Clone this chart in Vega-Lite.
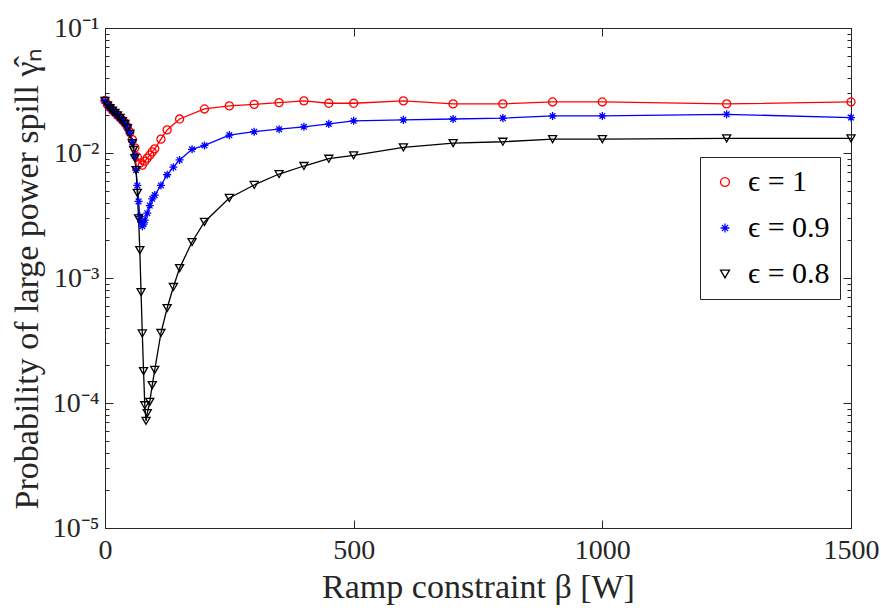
{
  "$schema": "https://vega.github.io/schema/vega-lite/v6.json",
  "width": 746,
  "height": 500,
  "autosize": {"type": "none"},
  "padding": {"left": 105, "top": 28, "right": 30, "bottom": 80},
  "background": "white",
  "config": {
    "view": {"stroke": "#262626", "strokeWidth": 1},
    "font": "Liberation Serif",
    "axis": {
      "labelFont": "Liberation Serif",
      "titleFont": "Liberation Serif",
      "labelFontSize": 28,
      "titleFontSize": 34,
      "titleFontWeight": "normal",
      "labelColor": "#262626",
      "titleColor": "#262626",
      "domainColor": "#262626",
      "tickColor": "#262626",
      "grid": false
    },
    "legend": {
      "labelFont": "Liberation Serif",
      "labelFontSize": 30,
      "labelColor": "#000000"
    }
  },
  "data": {
    "values": [
      {"beta": 0, "p": 0.0263, "series": "ϵ = 1"},
      {"beta": 5, "p": 0.0243, "series": "ϵ = 1"},
      {"beta": 10, "p": 0.0231, "series": "ϵ = 1"},
      {"beta": 15, "p": 0.0220, "series": "ϵ = 1"},
      {"beta": 20, "p": 0.0210, "series": "ϵ = 1"},
      {"beta": 25, "p": 0.0201, "series": "ϵ = 1"},
      {"beta": 30, "p": 0.0192, "series": "ϵ = 1"},
      {"beta": 35, "p": 0.0183, "series": "ϵ = 1"},
      {"beta": 40, "p": 0.0174, "series": "ϵ = 1"},
      {"beta": 45, "p": 0.0162, "series": "ϵ = 1"},
      {"beta": 50, "p": 0.0147, "series": "ϵ = 1"},
      {"beta": 55, "p": 0.0128, "series": "ϵ = 1"},
      {"beta": 60, "p": 0.0110, "series": "ϵ = 1"},
      {"beta": 65, "p": 0.0093, "series": "ϵ = 1"},
      {"beta": 70, "p": 0.0083, "series": "ϵ = 1"},
      {"beta": 75, "p": 0.0080, "series": "ϵ = 1"},
      {"beta": 80, "p": 0.0086, "series": "ϵ = 1"},
      {"beta": 85, "p": 0.0091, "series": "ϵ = 1"},
      {"beta": 90, "p": 0.0096, "series": "ϵ = 1"},
      {"beta": 95, "p": 0.0102, "series": "ϵ = 1"},
      {"beta": 100, "p": 0.0108, "series": "ϵ = 1"},
      {"beta": 112.5, "p": 0.0129, "series": "ϵ = 1"},
      {"beta": 125, "p": 0.0153, "series": "ϵ = 1"},
      {"beta": 150, "p": 0.0187, "series": "ϵ = 1"},
      {"beta": 200, "p": 0.0225, "series": "ϵ = 1"},
      {"beta": 250, "p": 0.0238, "series": "ϵ = 1"},
      {"beta": 300, "p": 0.0245, "series": "ϵ = 1"},
      {"beta": 350, "p": 0.0253, "series": "ϵ = 1"},
      {"beta": 400, "p": 0.0261, "series": "ϵ = 1"},
      {"beta": 450, "p": 0.0250, "series": "ϵ = 1"},
      {"beta": 500, "p": 0.0250, "series": "ϵ = 1"},
      {"beta": 600, "p": 0.0261, "series": "ϵ = 1"},
      {"beta": 700, "p": 0.0247, "series": "ϵ = 1"},
      {"beta": 800, "p": 0.0247, "series": "ϵ = 1"},
      {"beta": 900, "p": 0.0256, "series": "ϵ = 1"},
      {"beta": 1000, "p": 0.0256, "series": "ϵ = 1"},
      {"beta": 1250, "p": 0.0247, "series": "ϵ = 1"},
      {"beta": 1500, "p": 0.0256, "series": "ϵ = 1"},

      {"beta": 0, "p": 0.0262, "series": "ϵ = 0.9"},
      {"beta": 5, "p": 0.0241, "series": "ϵ = 0.9"},
      {"beta": 10, "p": 0.0229, "series": "ϵ = 0.9"},
      {"beta": 15, "p": 0.0219, "series": "ϵ = 0.9"},
      {"beta": 20, "p": 0.0209, "series": "ϵ = 0.9"},
      {"beta": 25, "p": 0.0199, "series": "ϵ = 0.9"},
      {"beta": 30, "p": 0.0190, "series": "ϵ = 0.9"},
      {"beta": 35, "p": 0.0181, "series": "ϵ = 0.9"},
      {"beta": 40, "p": 0.0172, "series": "ϵ = 0.9"},
      {"beta": 45, "p": 0.0159, "series": "ϵ = 0.9"},
      {"beta": 50, "p": 0.0144, "series": "ϵ = 0.9"},
      {"beta": 55, "p": 0.0122, "series": "ϵ = 0.9"},
      {"beta": 60, "p": 0.0095, "series": "ϵ = 0.9"},
      {"beta": 62.5, "p": 0.0073, "series": "ϵ = 0.9"},
      {"beta": 65, "p": 0.0055, "series": "ϵ = 0.9"},
      {"beta": 67.5, "p": 0.0041, "series": "ϵ = 0.9"},
      {"beta": 70, "p": 0.0031, "series": "ϵ = 0.9"},
      {"beta": 72.5, "p": 0.0028, "series": "ϵ = 0.9"},
      {"beta": 75, "p": 0.0026, "series": "ϵ = 0.9"},
      {"beta": 77.5, "p": 0.0027, "series": "ϵ = 0.9"},
      {"beta": 80, "p": 0.0029, "series": "ϵ = 0.9"},
      {"beta": 85, "p": 0.0033, "series": "ϵ = 0.9"},
      {"beta": 90, "p": 0.0038, "series": "ϵ = 0.9"},
      {"beta": 95, "p": 0.0043, "series": "ϵ = 0.9"},
      {"beta": 100, "p": 0.0046, "series": "ϵ = 0.9"},
      {"beta": 112.5, "p": 0.0055, "series": "ϵ = 0.9"},
      {"beta": 125, "p": 0.0067, "series": "ϵ = 0.9"},
      {"beta": 137.5, "p": 0.0077, "series": "ϵ = 0.9"},
      {"beta": 150, "p": 0.0088, "series": "ϵ = 0.9"},
      {"beta": 175, "p": 0.0107, "series": "ϵ = 0.9"},
      {"beta": 200, "p": 0.0115, "series": "ϵ = 0.9"},
      {"beta": 250, "p": 0.0139, "series": "ϵ = 0.9"},
      {"beta": 300, "p": 0.0148, "series": "ϵ = 0.9"},
      {"beta": 350, "p": 0.0155, "series": "ϵ = 0.9"},
      {"beta": 400, "p": 0.0162, "series": "ϵ = 0.9"},
      {"beta": 450, "p": 0.0171, "series": "ϵ = 0.9"},
      {"beta": 500, "p": 0.0181, "series": "ϵ = 0.9"},
      {"beta": 600, "p": 0.0184, "series": "ϵ = 0.9"},
      {"beta": 700, "p": 0.0187, "series": "ϵ = 0.9"},
      {"beta": 800, "p": 0.0190, "series": "ϵ = 0.9"},
      {"beta": 900, "p": 0.0198, "series": "ϵ = 0.9"},
      {"beta": 1000, "p": 0.0198, "series": "ϵ = 0.9"},
      {"beta": 1250, "p": 0.0204, "series": "ϵ = 0.9"},
      {"beta": 1500, "p": 0.0192, "series": "ϵ = 0.9"},

      {"beta": 0, "p": 0.0261, "series": "ϵ = 0.8"},
      {"beta": 5, "p": 0.0240, "series": "ϵ = 0.8"},
      {"beta": 10, "p": 0.0228, "series": "ϵ = 0.8"},
      {"beta": 15, "p": 0.0218, "series": "ϵ = 0.8"},
      {"beta": 20, "p": 0.0209, "series": "ϵ = 0.8"},
      {"beta": 25, "p": 0.0200, "series": "ϵ = 0.8"},
      {"beta": 30, "p": 0.0191, "series": "ϵ = 0.8"},
      {"beta": 35, "p": 0.0180, "series": "ϵ = 0.8"},
      {"beta": 40, "p": 0.0171, "series": "ϵ = 0.8"},
      {"beta": 45, "p": 0.0158, "series": "ϵ = 0.8"},
      {"beta": 50, "p": 0.0142, "series": "ϵ = 0.8"},
      {"beta": 55, "p": 0.0120, "series": "ϵ = 0.8"},
      {"beta": 57.5, "p": 0.0106, "series": "ϵ = 0.8"},
      {"beta": 60, "p": 0.0091, "series": "ϵ = 0.8"},
      {"beta": 62.5, "p": 0.0073, "series": "ϵ = 0.8"},
      {"beta": 65, "p": 0.0048, "series": "ϵ = 0.8"},
      {"beta": 67.5, "p": 0.0030, "series": "ϵ = 0.8"},
      {"beta": 70, "p": 0.00167, "series": "ϵ = 0.8"},
      {"beta": 72.5, "p": 0.00077, "series": "ϵ = 0.8"},
      {"beta": 75, "p": 0.00036, "series": "ϵ = 0.8"},
      {"beta": 77.5, "p": 0.00018, "series": "ϵ = 0.8"},
      {"beta": 80, "p": 0.000096, "series": "ϵ = 0.8"},
      {"beta": 82.5, "p": 0.000072, "series": "ϵ = 0.8"},
      {"beta": 85, "p": 0.000083, "series": "ϵ = 0.8"},
      {"beta": 90, "p": 0.000102, "series": "ϵ = 0.8"},
      {"beta": 95, "p": 0.000139, "series": "ϵ = 0.8"},
      {"beta": 100, "p": 0.000184, "series": "ϵ = 0.8"},
      {"beta": 112.5, "p": 0.000363, "series": "ϵ = 0.8"},
      {"beta": 125, "p": 0.000575, "series": "ϵ = 0.8"},
      {"beta": 137.5, "p": 0.000847, "series": "ϵ = 0.8"},
      {"beta": 150, "p": 0.00120, "series": "ϵ = 0.8"},
      {"beta": 175, "p": 0.00194, "series": "ϵ = 0.8"},
      {"beta": 200, "p": 0.00281, "series": "ϵ = 0.8"},
      {"beta": 250, "p": 0.00437, "series": "ϵ = 0.8"},
      {"beta": 300, "p": 0.00555, "series": "ϵ = 0.8"},
      {"beta": 350, "p": 0.00679, "series": "ϵ = 0.8"},
      {"beta": 400, "p": 0.00787, "series": "ϵ = 0.8"},
      {"beta": 450, "p": 0.00900, "series": "ϵ = 0.8"},
      {"beta": 500, "p": 0.00958, "series": "ϵ = 0.8"},
      {"beta": 600, "p": 0.0111, "series": "ϵ = 0.8"},
      {"beta": 700, "p": 0.0120, "series": "ϵ = 0.8"},
      {"beta": 800, "p": 0.0123, "series": "ϵ = 0.8"},
      {"beta": 900, "p": 0.0129, "series": "ϵ = 0.8"},
      {"beta": 1000, "p": 0.0129, "series": "ϵ = 0.8"},
      {"beta": 1250, "p": 0.0131, "series": "ϵ = 0.8"},
      {"beta": 1500, "p": 0.0131, "series": "ϵ = 0.8"}
    ]
  },
  "layer": [
    {
      "mark": {"type": "line", "strokeWidth": 1.3},
      "encoding": {
        "x": {
          "field": "beta", "type": "quantitative",
          "scale": {"domain": [0, 1500], "nice": false, "zero": false},
          "axis": {
            "orient": "bottom", "title": "Ramp constraint β [W]",
            "values": [0, 500, 1000, 1500], "format": "d", "tickSize": -8, "labelPadding": 16,
            "titlePadding": 6, "labelFlush": false
          }
        },
        "y": {
          "field": "p", "type": "quantitative",
          "scale": {"type": "log", "domain": [0.00001, 0.1], "nice": false},
          "axis": {
            "orient": "left", "title": "Probability of large power spill γ̂ₙ",
            "values": [0.00001, 0.00002, 0.00003, 0.00004, 0.00005, 0.00006, 0.00007, 0.00008, 0.00009,
                       0.0001, 0.0002, 0.0003, 0.0004, 0.0005, 0.0006, 0.0007, 0.0008, 0.0009,
                       0.001, 0.002, 0.003, 0.004, 0.005, 0.006, 0.007, 0.008, 0.009,
                       0.01, 0.02, 0.03, 0.04, 0.05, 0.06, 0.07, 0.08, 0.09, 0.1],
            "labelExpr": "datum.value == 0.1 ? '10⁻¹' : datum.value == 0.01 ? '10⁻²' : datum.value == 0.001 ? '10⁻³' : datum.value == 0.0001 ? '10⁻⁴' : datum.value == 0.00001 ? '10⁻⁵' : ''",
            "tickSize": {"condition": {"test": "datum.value == 0.1 || datum.value == 0.01 || datum.value == 0.001 || datum.value == 0.0001 || datum.value == 0.00001", "value": -8}, "value": -4},
            "labelPadding": 14, "labelFlush": false, "labelOverlap": false, "titlePadding": 8
          }
        },
        "color": {
          "field": "series", "type": "nominal",
          "scale": {"domain": ["ϵ = 1", "ϵ = 0.9", "ϵ = 0.8"], "range": ["#ff0000", "#0000ff", "#000000"]},
          "sort": ["ϵ = 1", "ϵ = 0.9", "ϵ = 0.8"],
          "legend": {
            "title": null, "orient": "none", "legendX": 595, "legendY": 129,
            "strokeColor": "#262626", "fillColor": "white", "padding": 10,
            "rowPadding": 16, "symbolSize": 80, "symbolStrokeWidth": 1.3, "labelOffset": 8
          }
        }
      }
    },
    {
      "mark": {"type": "point", "filled": false, "strokeWidth": 1.3, "size": 65, "opacity": 1},
      "encoding": {
        "x": {"field": "beta", "type": "quantitative", "axis": null},
        "y": {"field": "p", "type": "quantitative", "axis": null},
        "color": {"field": "series", "type": "nominal"},
        "shape": {
          "field": "series", "type": "nominal",
          "scale": {"domain": ["ϵ = 1", "ϵ = 0.9", "ϵ = 0.8"], "range": ["circle", "M-1,0H1M0,-1V1M-0.7,-0.7L0.7,0.7M-0.7,0.7L0.7,-0.7", "triangle-down"]}
        }
      }
    },
    {
      "mark": {"type": "point", "opacity": 0},
      "encoding": {
        "x": {
          "field": "beta", "type": "quantitative",
          "axis": {"orient": "top", "title": null, "labels": false, "domain": false, "values": [0, 500, 1000, 1500], "tickSize": -8}
        },
        "y": {
          "field": "p", "type": "quantitative",
          "axis": {
            "orient": "right", "title": null, "labels": false, "domain": false,
            "values": [0.00001, 0.00002, 0.00003, 0.00004, 0.00005, 0.00006, 0.00007, 0.00008, 0.00009,
                       0.0001, 0.0002, 0.0003, 0.0004, 0.0005, 0.0006, 0.0007, 0.0008, 0.0009,
                       0.001, 0.002, 0.003, 0.004, 0.005, 0.006, 0.007, 0.008, 0.009,
                       0.01, 0.02, 0.03, 0.04, 0.05, 0.06, 0.07, 0.08, 0.09, 0.1],
            "tickSize": {"condition": {"test": "datum.value == 0.1 || datum.value == 0.01 || datum.value == 0.001 || datum.value == 0.0001 || datum.value == 0.00001", "value": -8}, "value": -4}
          }
        }
      }
    }
  ],
  "resolve": {"axis": {"x": "independent", "y": "independent"}}
}
